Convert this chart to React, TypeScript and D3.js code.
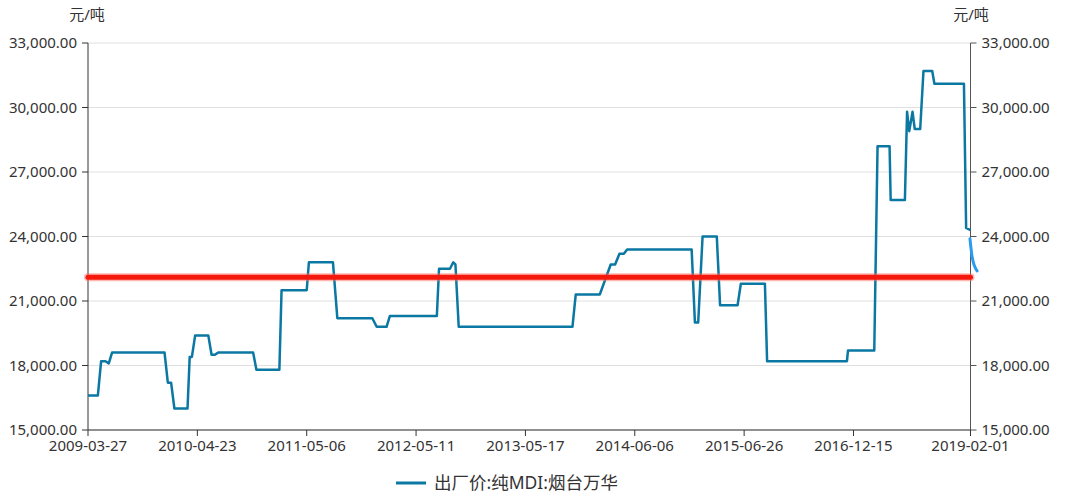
import React from "react";
import * as d3 from "d3";

// category index (weekly points) -> value, step breakpoints
const seriesIdx = [0, 9, 12, 16, 19, 22, 70, 73, 76, 79, 91, 93, 95, 98, 110, 113, 116, 119, 151, 154, 175, 177, 200, 202, 224, 228, 260, 264, 273, 276, 319, 321, 331, 334, 336, 339, 443, 446, 468, 478, 482, 486, 490, 493, 552, 555, 558, 562, 575, 578, 594, 597, 619, 621, 694, 695, 719, 722, 733, 734, 747, 749, 751, 754, 756, 761, 764, 772, 774, 801, 803, 807];
const seriesVal = [16600, 16600, 18200, 18200, 18100, 18600, 18600, 17200, 17200, 16000, 16000, 18400, 18400, 19400, 19400, 18500, 18500, 18600, 18600, 17800, 17800, 21500, 21500, 22800, 22800, 20200, 20200, 19800, 19800, 20300, 20300, 22500, 22500, 22800, 22700, 19800, 19800, 21300, 21300, 22700, 22700, 23200, 23200, 23400, 23400, 20000, 20000, 24000, 24000, 20800, 20800, 21800, 21800, 18200, 18200, 18700, 18700, 28200, 28200, 25700, 25700, 29800, 28900, 29800, 29000, 29000, 31700, 31700, 31100, 31100, 24400, 24300];

const forecastIdx = [806.5, 808.5, 813];
const forecastVal = [23900, 23050, 22400];

const avgValue = 22100;

const tickIdx = [0, 100, 200, 300, 400, 500, 600, 700, 807];
const tickLabels = ["2009-03-27", "2010-04-23", "2011-05-06", "2012-05-11", "2013-05-17", "2014-06-06", "2015-06-26", "2016-12-15", "2019-02-01"];
const yTicks = [15000, 18000, 21000, 24000, 27000, 30000, 33000];
const seriesName = "出厂价:纯MDI:烟台万华";
const unit = "元/吨";

const W = 1066, H = 496;
const L = 88, R = 970.5, T = 43, B = 430;
const FONT = "'Noto Sans', 'Noto Sans CJK SC', sans-serif";

export default function App() {
  const x = d3.scaleLinear().domain([0, 807]).range([L, R]);
  const y = d3.scaleLinear().domain([15000, 33000]).range([B, T]);
  const fmt = d3.format(",.2f");
  const pts: [number, number][] = seriesIdx.map((d, i) => [d, seriesVal[i]]);
  const fpts: [number, number][] = forecastIdx.map((d, i) => [d, forecastVal[i]]);
  const line = d3.line<[number, number]>().x(d => x(d[0])).y(d => y(d[1]));
  const fline = d3.line<[number, number]>().x(d => x(d[0])).y(d => y(d[1])).curve(d3.curveMonotoneX);
  const ya = y(avgValue);
  return (
    <svg width={W} height={H} style={{ position: "absolute", left: 0, top: 0, background: "#fff" }} fontFamily={FONT}>
      {yTicks.map(t => (
        <line key={"g" + t} x1={L} x2={R} y1={y(t)} y2={y(t)} stroke="#e0e0e0" strokeWidth={1} />
      ))}
      {/* left axis */}
      <line x1={L} x2={L} y1={T} y2={B} stroke="#333" strokeWidth={1} />
      {yTicks.map(t => (
        <g key={"l" + t}>
          <line x1={L - 6} x2={L} y1={y(t)} y2={y(t)} stroke="#333" />
          <text x={L - 11} y={y(t)} dy="0.35em" textAnchor="end" fontSize={15} fill="#333">{fmt(t)}</text>
        </g>
      ))}
      {/* right axis */}
      <line x1={R} x2={R} y1={T} y2={B} stroke="#555" strokeWidth={1} />
      {yTicks.map(t => (
        <g key={"r" + t}>
          <line x1={R} x2={R + 6} y1={y(t)} y2={y(t)} stroke="#555" />
          <text x={R + 11} y={y(t)} dy="0.35em" textAnchor="start" fontSize={15} fill="#333">{fmt(t)}</text>
        </g>
      ))}
      {/* bottom axis */}
      <line x1={L} x2={R} y1={B} y2={B} stroke="#333" strokeWidth={1} />
      {tickIdx.map((t, i) => (
        <g key={"x" + t}>
          <line x1={x(t)} x2={x(t)} y1={B} y2={B + 6} stroke="#333" />
          <text x={x(t)} y={B + 21} textAnchor="middle" fontSize={15} fill="#333">{tickLabels[i]}</text>
        </g>
      ))}
      <text x={87} y={20} textAnchor="middle" fontSize={15} fill="#333">{unit}</text>
      <text x={971} y={20} textAnchor="middle" fontSize={15} fill="#333">{unit}</text>
      {/* series */}
      <path d={line(pts) || ""} fill="none" stroke="#0a78a2" strokeWidth={2.5} strokeLinejoin="round" />
      <path d={fline(fpts) || ""} fill="none" stroke="#2a9cf0" strokeWidth={3} strokeLinecap="round" />
      {/* average line */}
      <line x1={L} x2={R} y1={ya} y2={ya} stroke="#ff7060" strokeOpacity={0.5} strokeWidth={8} strokeLinecap="round" />
      <line x1={L} x2={R} y1={ya} y2={ya} stroke="#f5180c" strokeWidth={5} strokeLinecap="round" />
      {/* legend */}
      <line x1={396} x2={426} y1={483} y2={483} stroke="#0a78a2" strokeWidth={3} />
      <text x={434} y={483} dy="0.35em" fontSize={17.5} fill="#333">{seriesName}</text>
    </svg>
  );
}
